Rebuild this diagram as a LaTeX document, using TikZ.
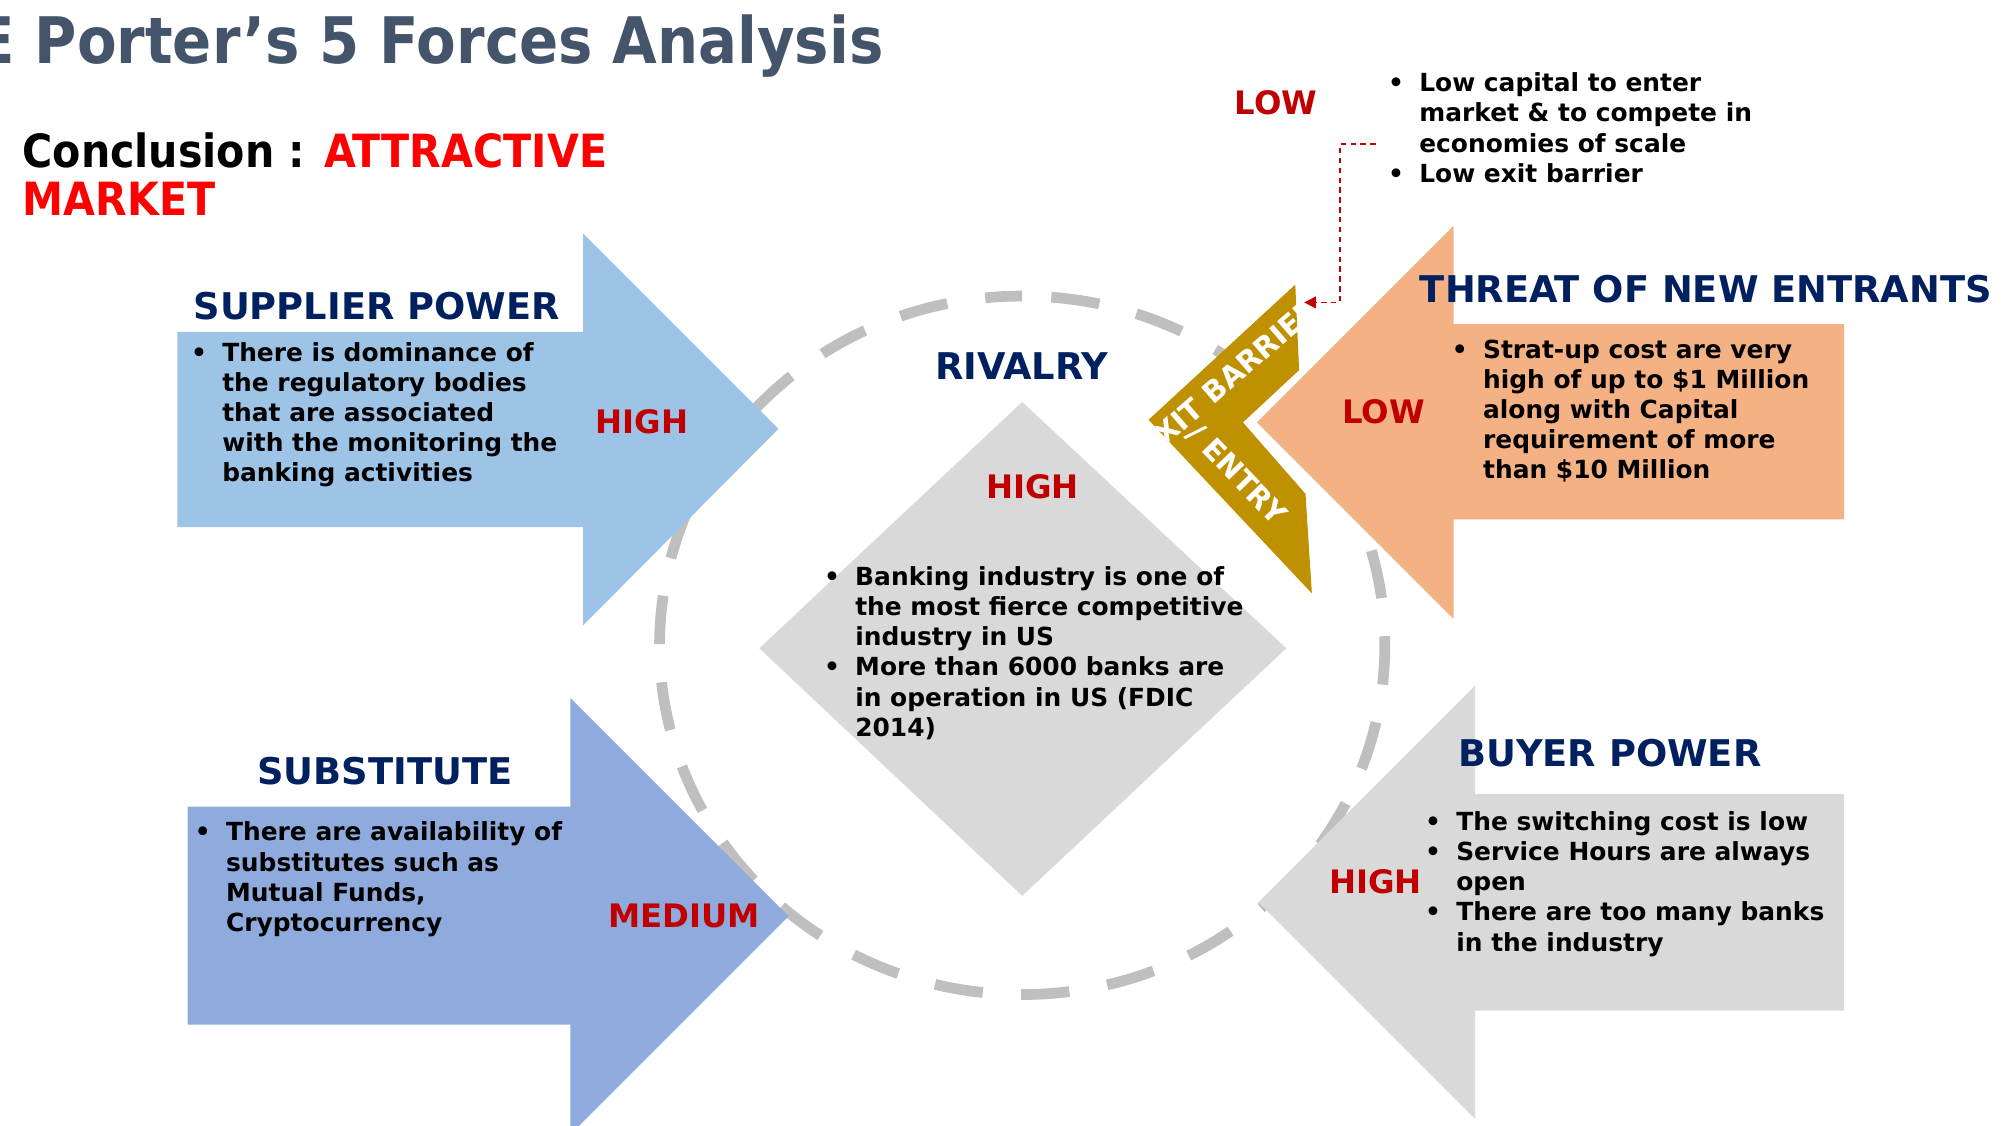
\documentclass[tikz,border=0pt]{standalone}
\usepackage{fontspec}
\setmainfont{DejaVu Sans}
\newfontfamily\condfont{DejaVu Sans Condensed}
\usetikzlibrary{arrows.meta}

\definecolor{titlegray}{HTML}{44546A}
\definecolor{headnavy}{HTML}{002060}
\definecolor{levelred}{HTML}{C00000}
\definecolor{concred}{HTML}{FF0000}
\definecolor{supblue}{HTML}{9DC3E6}
\definecolor{subblue}{HTML}{8FAADC}
\definecolor{threatorange}{HTML}{F4B183}
\definecolor{buyergray}{HTML}{D9D9D9}
\definecolor{ringgray}{HTML}{BFBFBF}
\definecolor{barriergold}{HTML}{BF9000}

% liste a puces : une colonne pour la puce, une pour le texte
\newcommand{\puces}[1]{\begin{tabular}[t]{@{}l@{\hspace{0.12cm}}l@{}}#1\end{tabular}}

\begin{document}
\begin{tikzpicture}[x=0.01cm, y=-0.01cm,
    titre/.style={anchor=base west, inner sep=0, text=titlegray,
      font=\condfont\fontsize{14.3}{17}\selectfont\bfseries},
    entete/.style={anchor=base west, inner sep=0, text=headnavy,
      font=\fontsize{8.2}{9.8}\selectfont\bfseries},
    niveau/.style={anchor=base west, inner sep=0, text=levelred,
      font=\fontsize{7.2}{8.6}\selectfont\bfseries},
    liste/.style={anchor=base west, inner sep=0,
      font=\fontsize{5.55}{6.7}\selectfont\bfseries},
    barriere/.style={inner sep=0, text=white,
      font=\fontsize{6.5}{7.8}\selectfont\bfseries},
    anneau/.style={draw=ringgray, line width=0.084cm,
      dash pattern=on 0.38cm off 0.30cm, dash phase=0.09cm},
    renvoi/.style={draw=levelred, line width=0.4pt,
      dash pattern=on 1.2pt off 1pt, -{Triangle[length=2.6pt,width=2.6pt]}}]
    \useasboundingbox (0,0) rectangle (1568,882);

    % Titre et conclusion
    \node[titre] (title) at (-20,50) {E Porter’s 5 Forces Analysis};
    \node[anchor=base west, inner sep=0, align=left,
      font=\condfont\fontsize{10.2}{10.8}\selectfont\bfseries] (conclusion) at (17,169)
      {Conclusion : \textcolor{concred}{ATTRACTIVE}\\\textcolor{concred}{MARKET}};

    % Cercle pointille de la rivalite
    \draw[anneau] (801,232) arc[start angle=90, end angle=450,
      x radius=2.84cm, y radius=2.735cm];

    % Les quatre fleches
    \fill[supblue] (139,260) -- (457,260) -- (457,183) -- (610,336)
      -- (457,490) -- (457,413) -- (139,413) -- cycle;
    \fill[subblue] (147,632) -- (447,632) -- (447,547) -- (618,718)
      -- (447,889) -- (447,803) -- (147,803) -- cycle;
    \fill[threatorange] (1445,254) -- (1139,254) -- (1139,177) -- (985,331)
      -- (1139,485) -- (1139,407) -- (1445,407) -- cycle;
    \fill[buyergray] (1445,622) -- (1156,622) -- (1156,537) -- (986,707)
      -- (1156,877) -- (1156,792) -- (1445,792) -- cycle;

    % Losange central
    \fill[buyergray] (801,315) -- (1008,508) -- (801,702) -- (595,508) -- cycle;

    % Chevron des barrieres
    \fill[barriergold] (1015,223) -- (1018,290) -- (974,331) -- (1023,387)
      -- (1028,465) -- (900,329) -- cycle;
    \begin{scope}
      \clip (1015,223) -- (1018,290) -- (974,331) -- (1023,387)
        -- (1028,465) -- (900,329) -- cycle;
      \node[barriere, rotate=41] (exitbar) at (963,296) {EXIT BARRIER};
      \node[barriere, rotate=-46] (entry) at (969,372) {/ ENTRY};
    \end{scope}

    % Pouvoir des fournisseurs
    \node[entete] (suphead) at (151,250) {SUPPLIER POWER};
    \node[liste] (suptext) at (149,283) {\puces{\textbullet & There is dominance of\\
      & the regulatory bodies\\ & that are associated\\
      & with the monitoring the\\ & banking activities}};
    \node[niveau] (suplevel) at (466,340) {HIGH};

    % Produits de substitution
    \node[entete] (subhead) at (201,615) {SUBSTITUTE};
    \node[liste] (subtext) at (152,659) {\puces{\textbullet & There are availability of\\
      & substitutes such as\\ & Mutual Funds,\\ & Cryptocurrency}};
    \node[niveau] (sublevel) at (476,727) {MEDIUM};

    % Menace des nouveaux entrants
    \node[entete] (threathead) at (1112,237) {THREAT OF NEW ENTRANTS};
    \node[liste] (threattext) at (1137,281) {\puces{\textbullet & Strat-up cost are very\\
      & high of up to \$1 Million\\ & along with Capital\\
      & requirement of more\\ & than \$10 Million}};
    \node[niveau] (threatlevel) at (1051,332) {LOW};

    % Pouvoir des clients
    \node[entete] (buyhead) at (1142,601) {BUYER POWER};
    \node[liste] (buytext) at (1116,651) {\puces{\textbullet & The switching cost is low\\
      \textbullet & Service Hours are always\\ & open\\
      \textbullet & There are too many banks\\ & in the industry}};
    \node[niveau] (buylevel) at (1041,700) {HIGH};

    % Rivalite
    \node[entete] (rivhead) at (732,297) {RIVALRY};
    \node[niveau] (rivlevel) at (772,391) {HIGH};
    \node[liste] (rivtext) at (645,459) {\puces{\textbullet & Banking industry is one of\\
      & the most fierce competitive\\ & industry in US\\
      \textbullet & More than 6000 banks are\\ & in operation in US (FDIC\\ & 2014)}};

    % Barrieres : niveau et renvoi
    \node[niveau] (barlevel) at (967,90) {LOW};
    \node[liste] (bartext) at (1087,72) {\puces{\textbullet & Low capital to enter\\
      & market \& to compete in\\ & economies of scale\\
      \textbullet & Low exit barrier}};
    \coordinate (leadstart) at (1078,113);
    \coordinate (leadbend) at (1050,237);
    \coordinate (chevmark) at (1022,237);
    \draw[renvoi] (leadstart) -| (leadbend) -- (chevmark);
\end{tikzpicture}
\end{document}
